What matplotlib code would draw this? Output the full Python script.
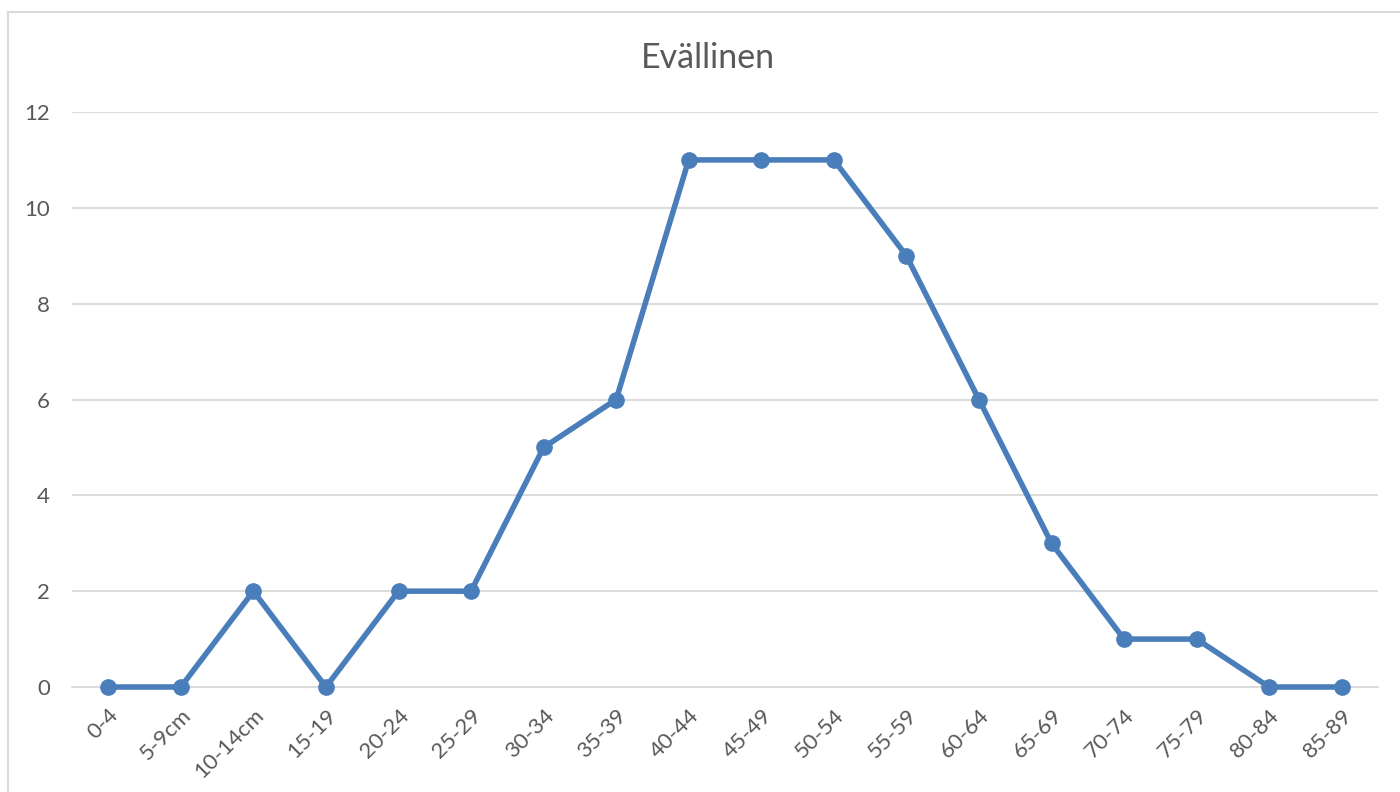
import matplotlib.pyplot as plt
from matplotlib.patches import Rectangle

categories = ['0-4', '5-9cm', '10-14cm', '15-19', '20-24', '25-29', '30-34', '35-39',
              '40-44', '45-49', '50-54', '55-59', '60-64', '65-69', '70-74', '75-79',
              '80-84', '85-89']
values = [0, 0, 2, 0, 2, 2, 5, 6, 11, 11, 11, 9, 6, 3, 1, 1, 0, 0]
yticks = [0, 2, 4, 6, 8, 10, 12]

plt.rcParams['font.family'] = ['Lato', 'DejaVu Sans']
text_color = '#595959'
grid_color = '#d9d9d9'
line_color = '#4a7ebb'

fig = plt.figure(figsize=(14, 7.92), dpi=100)
W, H = 1400, 792

# chart border (only left and top edges fall inside the picture)
fig.patches.append(Rectangle((8 / W, -0.2), 1.2, 1.2 - 12 / H, transform=fig.transFigure,
                             fill=False, edgecolor=grid_color, linewidth=1.5))

ax = fig.add_axes([72 / W, 1 - 687 / H, (1378 - 72) / W, (687 - 112) / H])
x = list(range(len(categories)))
ax.plot(x, values, color=line_color, linewidth=4, marker='o', markersize=11,
        clip_on=False, zorder=3)

ax.set_xlim(-0.5, len(categories) - 0.5)
ax.set_ylim(0, 12)
ax.set_yticks(yticks)
ax.set_xticks(x)
ax.set_xticklabels(categories, rotation=45, ha='right', rotation_mode='anchor')
ax.tick_params(axis='both', length=0, labelsize=16, colors=text_color)
ax.tick_params(axis='x', pad=13)
ax.tick_params(axis='y', pad=16)

ax.grid(axis='y', color=grid_color, linewidth=1.3)
ax.set_axisbelow(True)
for side in ['top', 'right', 'left']:
    ax.spines[side].set_visible(False)
ax.spines['bottom'].set_color(grid_color)
ax.spines['bottom'].set_linewidth(1.3)

fig.text(708 / W, 1 - 68 / H, 'Evällinen', ha='center', va='baseline',
         fontsize=24.5, color=text_color)

fig.savefig('out.png', dpi=100)
